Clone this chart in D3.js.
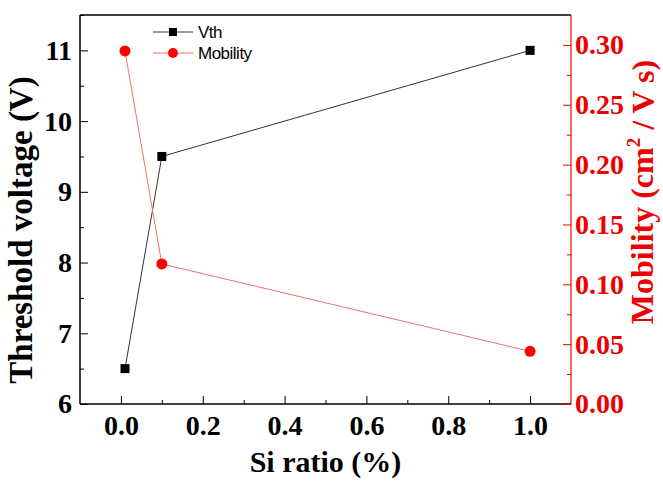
<!DOCTYPE html>
<html>
<head>
<meta charset="utf-8">
<script src="https://cdn.jsdelivr.net/npm/d3@7"></script>
<style>
  body { margin: 0; background: #fff; }
  .axis text { font-family: "Liberation Serif", "Times New Roman", serif; font-weight: bold; font-size: 28px; }
  .label { font-family: "Liberation Serif", "Times New Roman", serif; font-weight: bold; }
  .legend text { font-family: "Liberation Sans", Arial, sans-serif; font-size: 17px; letter-spacing: -0.5px; }
</style>
</head>
<body>
<script>
// Data
var siRatio = [0.01, 0.1, 1.0];
var vth = [6.5, 9.5, 11];
var mobility = [0.295, 0.117, 0.044];

var xTicks = [0, 0.2, 0.4, 0.6, 0.8, 1.0];
var vthTicks = [6, 7, 8, 9, 10, 11];
var mobTicks = [0, 0.05, 0.10, 0.15, 0.20, 0.25, 0.30];

var margin = {top: 15, right: 92, bottom: 80, left: 80},
    width = 663 - margin.left - margin.right,
    height = 484 - margin.top - margin.bottom;

var xScale = d3.scaleLinear().domain([-0.1, 1.1]).range([0, width]);
var yLeft = d3.scaleLinear().domain([6, 11.5]).range([height, 0]);
var yRight = d3.scaleLinear().domain([0, 0.325]).range([height, 0]);

var svg = d3.select("body").append("svg")
    .attr("width", width + margin.left + margin.right)
    .attr("height", height + margin.top + margin.bottom)
  .append("g")
    .attr("transform", "translate(" + margin.left + "," + margin.top + ")");

// minor ticks halfway between the major ones
function minor(values) {
  var out = [];
  for (var i = 0; i < values.length - 1; i++) out.push((values[i] + values[i + 1]) / 2);
  return out;
}

svg.append("g")
    .attr("transform", "translate(0," + height + ")")
    .call(d3.axisBottom(xScale).tickValues(minor(xTicks)).tickSize(-4).tickFormat(""))
    .call(function(g) { g.select(".domain").remove(); });

svg.append("g")
    .call(d3.axisLeft(yLeft).tickValues(minor(vthTicks).concat([11.5])).tickSize(-4).tickFormat(""))
    .call(function(g) { g.select(".domain").remove(); });

svg.append("g")
    .attr("transform", "translate(" + width + ",0)")
    .call(d3.axisRight(yRight).tickValues(minor(mobTicks)).tickSize(-4).tickFormat(""))
    .call(function(g) { g.select(".domain").remove(); g.selectAll("line").attr("stroke", "#e00"); });

// top frame
svg.append("line")
    .attr("x1", 0).attr("x2", width).attr("y1", 0).attr("y2", 0)
    .attr("stroke", "#000").attr("stroke-width", 1.5);

var xAxis = svg.append("g")
    .attr("class", "axis")
    .attr("transform", "translate(0," + height + ")")
    .call(d3.axisBottom(xScale).tickValues(xTicks).tickSize(-8).tickPadding(11)
      .tickFormat(d3.format(".1f")));
xAxis.select(".domain").attr("stroke-width", 1.5).attr("d", "M0,0H" + width);

var yAxis = svg.append("g")
    .attr("class", "axis")
    .call(d3.axisLeft(yLeft).tickValues(vthTicks).tickSize(-8).tickPadding(8)
      .tickFormat(d3.format("d")));
yAxis.select(".domain").attr("stroke-width", 1.5).attr("d", "M0," + height + "V0");

var yAxis2 = svg.append("g")
    .attr("class", "axis")
    .attr("transform", "translate(" + width + ",0)")
    .call(d3.axisRight(yRight).tickValues(mobTicks).tickSize(-8).tickPadding(4)
      .tickFormat(d3.format(".2f")));
yAxis2.select(".domain").attr("stroke", "#e00").attr("stroke-width", 1.2).attr("d", "M0," + height + "V0");
yAxis2.selectAll("line").attr("stroke", "#e00");
yAxis2.selectAll("text").attr("fill", "#e00");

// lines
var vthLine = d3.line()
    .x(function(d, i) { return xScale(siRatio[i]); })
    .y(function(d) { return yLeft(d); });
var mobLine = d3.line()
    .x(function(d, i) { return xScale(siRatio[i]); })
    .y(function(d) { return yRight(d); });

svg.append("path")
    .datum(vth)
    .attr("d", vthLine)
    .attr("fill", "none").attr("stroke", "#333").attr("stroke-width", 1);

svg.append("path")
    .datum(mobility)
    .attr("d", mobLine)
    .attr("fill", "none").attr("stroke", "#f07070").attr("stroke-width", 1);

svg.selectAll(".sq")
    .data(vth)
  .enter().append("rect")
    .attr("class", "sq")
    .attr("x", function(d, i) { return xScale(siRatio[i]) - 4.5; })
    .attr("y", function(d) { return yLeft(d) - 4.5; })
    .attr("width", 9).attr("height", 9)
    .attr("fill", "#000");

svg.selectAll(".dot")
    .data(mobility)
  .enter().append("circle")
    .attr("class", "dot")
    .attr("cx", function(d, i) { return xScale(siRatio[i]); })
    .attr("cy", function(d) { return yRight(d); })
    .attr("r", 5.5)
    .attr("fill", "#f00");

// legend
var legend = svg.append("g").attr("class", "legend").attr("transform", "translate(73,17)");
legend.append("line").attr("x1", 0).attr("x2", 40).attr("y1", 0).attr("y2", 0).attr("stroke", "#333");
legend.append("rect").attr("x", 16).attr("y", -4).attr("width", 8).attr("height", 8).attr("fill", "#000");
legend.append("text").attr("x", 45).attr("y", 0).attr("dy", "0.35em").text("Vth");
legend.append("line").attr("x1", 0).attr("x2", 40).attr("y1", 21).attr("y2", 21).attr("stroke", "#f07070");
legend.append("circle").attr("cx", 20).attr("cy", 21).attr("r", 5).attr("fill", "#f00");
legend.append("text").attr("x", 45).attr("y", 21).attr("dy", "0.35em").text("Mobility");

// axis titles
svg.append("text")
    .attr("class", "label")
    .attr("x", width / 2)
    .attr("y", height + 68)
    .style("text-anchor", "middle")
    .style("font-size", "30px")
    .text("Si ratio (%)");

svg.append("text")
    .attr("class", "label")
    .attr("transform", "translate(" + (32 - margin.left) + "," + (230 - margin.top) + ") rotate(-90)")
    .style("text-anchor", "middle")
    .style("font-size", "33px")
    .text("Threshold voltage (V)");

var t2 = svg.append("text")
    .attr("class", "label")
    .attr("transform", "translate(" + (653 - margin.left) + "," + (192 - margin.top) + ") rotate(-90)")
    .style("text-anchor", "middle")
    .style("font-size", "32px")
    .attr("fill", "#e00");
t2.append("tspan").text("Mobility (cm");
t2.append("tspan").attr("dy", "-0.7em").style("font-size", "19px").text("2");
t2.append("tspan").attr("dy", "0.45em").text(" / V s)");
</script>
</body>
</html>
